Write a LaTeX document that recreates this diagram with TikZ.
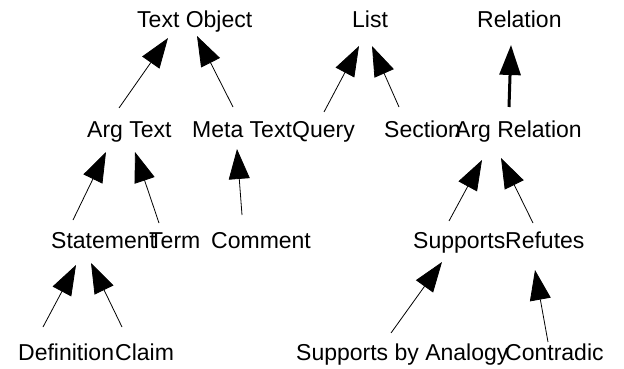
\documentclass[tikz,border=0pt]{standalone}
\usepackage{fontspec}
\setmainfont{Liberation Sans}
\usetikzlibrary{arrows.meta}
\begin{document}
\begin{tikzpicture}[x=1pt,y=-1pt,
  lbl/.style={anchor=base west,inner sep=0pt,font=\fontsize{23}{27}\selectfont},
  arr/.style={line width=0.8pt,-{Triangle[length=30pt,width=21pt]}},
  thickarr/.style={line width=3pt,-{Triangle[length=30pt,width=21pt]}}]
\useasboundingbox (0,0) rectangle (624,369);
% row 1
\node[lbl] (to) at (137,28) {Text Object};
\node[lbl] (list) at (352,28) {List};
\node[lbl] (rel) at (477,28) {Relation};
% row 2
\node[lbl] (at) at (87,137) {Arg Text};
\node[lbl] (mt) at (192,137) {Meta Text};
\node[lbl] (q) at (292,137) {Query};
\node[lbl] (sec) at (384,137) {Section};
\node[lbl] (ar) at (455,137) {Arg Relation};
% row 3
\node[lbl] (st) at (51,248) {Statement};
\node[lbl] (tm) at (149,248) {Term};
\node[lbl] (cm) at (211,248) {Comment};
\node[lbl] (sp) at (413,248) {Supports};
\node[lbl] (rf) at (505,248) {Refutes};
% row 4
\node[lbl] (df) at (18,360) {Definition};
\node[lbl] (cl) at (115,360) {Claim};
\node[lbl] (sa) at (296,360) {Supports by Analogy};
\node[lbl] (ct) at (505,360) {Contradic};
% arrows
\draw[arr] ([xshift=32pt,yshift=29pt]at.base west) -- ([xshift=31pt,yshift=-10pt]to.base west);
\draw[arr] ([xshift=41pt,yshift=30pt]mt.base west) -- ([xshift=60pt,yshift=-8pt]to.base west);
\draw[arr] ([xshift=22pt,yshift=28pt]st.base west) -- ([xshift=19pt,yshift=-15pt]at.base west);
\draw[arr] ([xshift=10pt,yshift=25pt]tm.base west) -- ([xshift=48pt,yshift=-15pt]at.base west);
\draw[arr] ([xshift=31pt,yshift=33pt]cm.base west) -- ([xshift=45pt,yshift=-12pt]mt.base west);
\draw[arr] ([xshift=25pt,yshift=33pt]df.base west) -- ([xshift=25pt,yshift=-17pt]st.base west);
\draw[arr] ([xshift=7pt,yshift=33pt]cl.base west) -- ([xshift=40pt,yshift=-15pt]st.base west);
\draw[arr] ([xshift=32pt,yshift=25pt]q.base west) -- ([xshift=7pt,yshift=-18pt]list.base west);
\draw[arr] ([xshift=15pt,yshift=30pt]sec.base west) -- ([xshift=20pt,yshift=-18pt]list.base west);
\draw[thickarr] ([xshift=54pt,yshift=30pt]ar.base west) -- ([xshift=34pt,yshift=-17pt]rel.base west);
\draw[arr] ([xshift=36pt,yshift=27pt]sp.base west) -- ([xshift=27pt,yshift=-23pt]ar.base west);
\draw[arr] ([xshift=28pt,yshift=25pt]rf.base west) -- ([xshift=46pt,yshift=-21pt]ar.base west);
\draw[arr] ([xshift=95pt,yshift=27pt]sa.base west) -- ([xshift=29pt,yshift=-14pt]sp.base west);
\draw[arr] ([xshift=43pt,yshift=18pt]ct.base west) -- ([xshift=30pt,yshift=-22pt]rf.base west);
\end{tikzpicture}
\end{document}
